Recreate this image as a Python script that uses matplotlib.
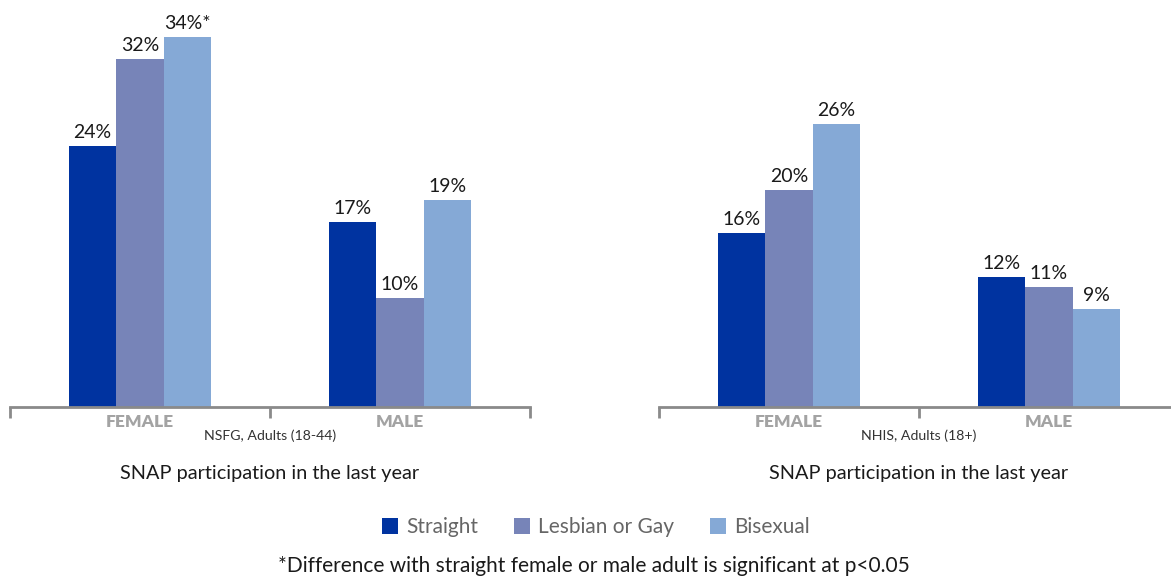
import matplotlib
matplotlib.use("Agg")
import matplotlib.pyplot as plt
from matplotlib.patches import Patch
import numpy as np

plt.rcParams['font.family'] = ['Lato', 'DejaVu Sans']

categories = ["FEMALE", "MALE"]
series = ["Straight", "Lesbian or Gay", "Bisexual"]
colors = ["#0033A0", "#7784B8", "#85A9D6"]

nsfg_values = {
    "Straight": [24, 17],
    "Lesbian or Gay": [32, 10],
    "Bisexual": [34, 19],
}
nsfg_labels = {
    "Straight": ["24%", "17%"],
    "Lesbian or Gay": ["32%", "10%"],
    "Bisexual": ["34%*", "19%"],
}
nhis_values = {
    "Straight": [16, 12],
    "Lesbian or Gay": [20, 11],
    "Bisexual": [26, 9],
}
nhis_labels = {
    "Straight": ["16%", "12%"],
    "Lesbian or Gay": ["20%", "11%"],
    "Bisexual": ["26%", "9%"],
}
panel_notes = ["NSFG, Adults (18-44)", "NHIS, Adults (18+)"]
panel_title = "SNAP participation in the last year"
footnote = "*Difference with straight female or male adult is significant at p<0.05"

W, H = 1171, 577
fig = plt.figure(figsize=(W / 100, H / 100), dpi=100)

base_y = 407
ax_bottom = (H - base_y) / H
ax_height = base_y / H
ymax = base_y / 10.875

axes_left = [10, 659]
data = [(nsfg_values, nsfg_labels), (nhis_values, nhis_labels)]
bar_w = 47.5 / 260
gray = "#8a8a8a"

for i, (left_px, (vals, labs)) in enumerate(zip(axes_left, data)):
    ax = fig.add_axes([left_px / W, ax_bottom, 520 / W, ax_height])
    x = np.arange(len(categories))
    for j, s in enumerate(series):
        xs = x + (j - 1) * bar_w
        ax.bar(xs, vals[s], width=bar_w, color=colors[j], zorder=2)
        for xi, v, lab in zip(xs, vals[s], labs[s]):
            ax.text(xi, v + 0.45, lab, ha="center", va="bottom", fontsize=14,
                    color="#1a1a1a")
    ax.set_xlim(-0.5, 1.5)
    ax.set_ylim(0, ymax)
    for sp in ["top", "right", "left"]:
        ax.spines[sp].set_visible(False)
    ax.spines["bottom"].set_color(gray)
    ax.spines["bottom"].set_linewidth(2)
    ax.set_yticks([])
    ax.set_xticks([-0.5, 0.5, 1.5])
    ax.set_xticklabels([])
    ax.tick_params(axis="x", which="major", direction="out", length=8, width=2,
                   color=gray)
    ax.set_xticks(x, minor=True)
    ax.set_xticklabels(categories, minor=True, fontsize=12.5, fontweight="heavy",
                       color="#a3a3a3")
    ax.tick_params(axis="x", which="minor", length=0, pad=5)
    ax.patch.set_alpha(0)
    cx_px = left_px + 260
    fig.text(cx_px / W, 1 - 436 / H, panel_notes[i], ha="center", va="center",
             fontsize=10.2, color="#333333")
    fig.text(cx_px / W, 1 - 474 / H, panel_title, ha="center", va="center",
             fontsize=14.3, color="#1a1a1a")

handles = [Patch(facecolor=c, edgecolor="none") for c in colors]
leg = fig.legend(handles, series, loc="center", bbox_to_anchor=(596 / W, 1 - 527 / H),
                 ncol=3, frameon=False, fontsize=15, handlelength=0.77,
                 handleheight=0.77, handletextpad=0.4, columnspacing=1.7)
for t in leg.get_texts():
    t.set_color("#666666")

fig.text(594 / W, 1 - 566 / H, footnote, ha="center", va="center", fontsize=15,
         color="#1a1a1a")

fig.savefig("out.png", dpi=100)
